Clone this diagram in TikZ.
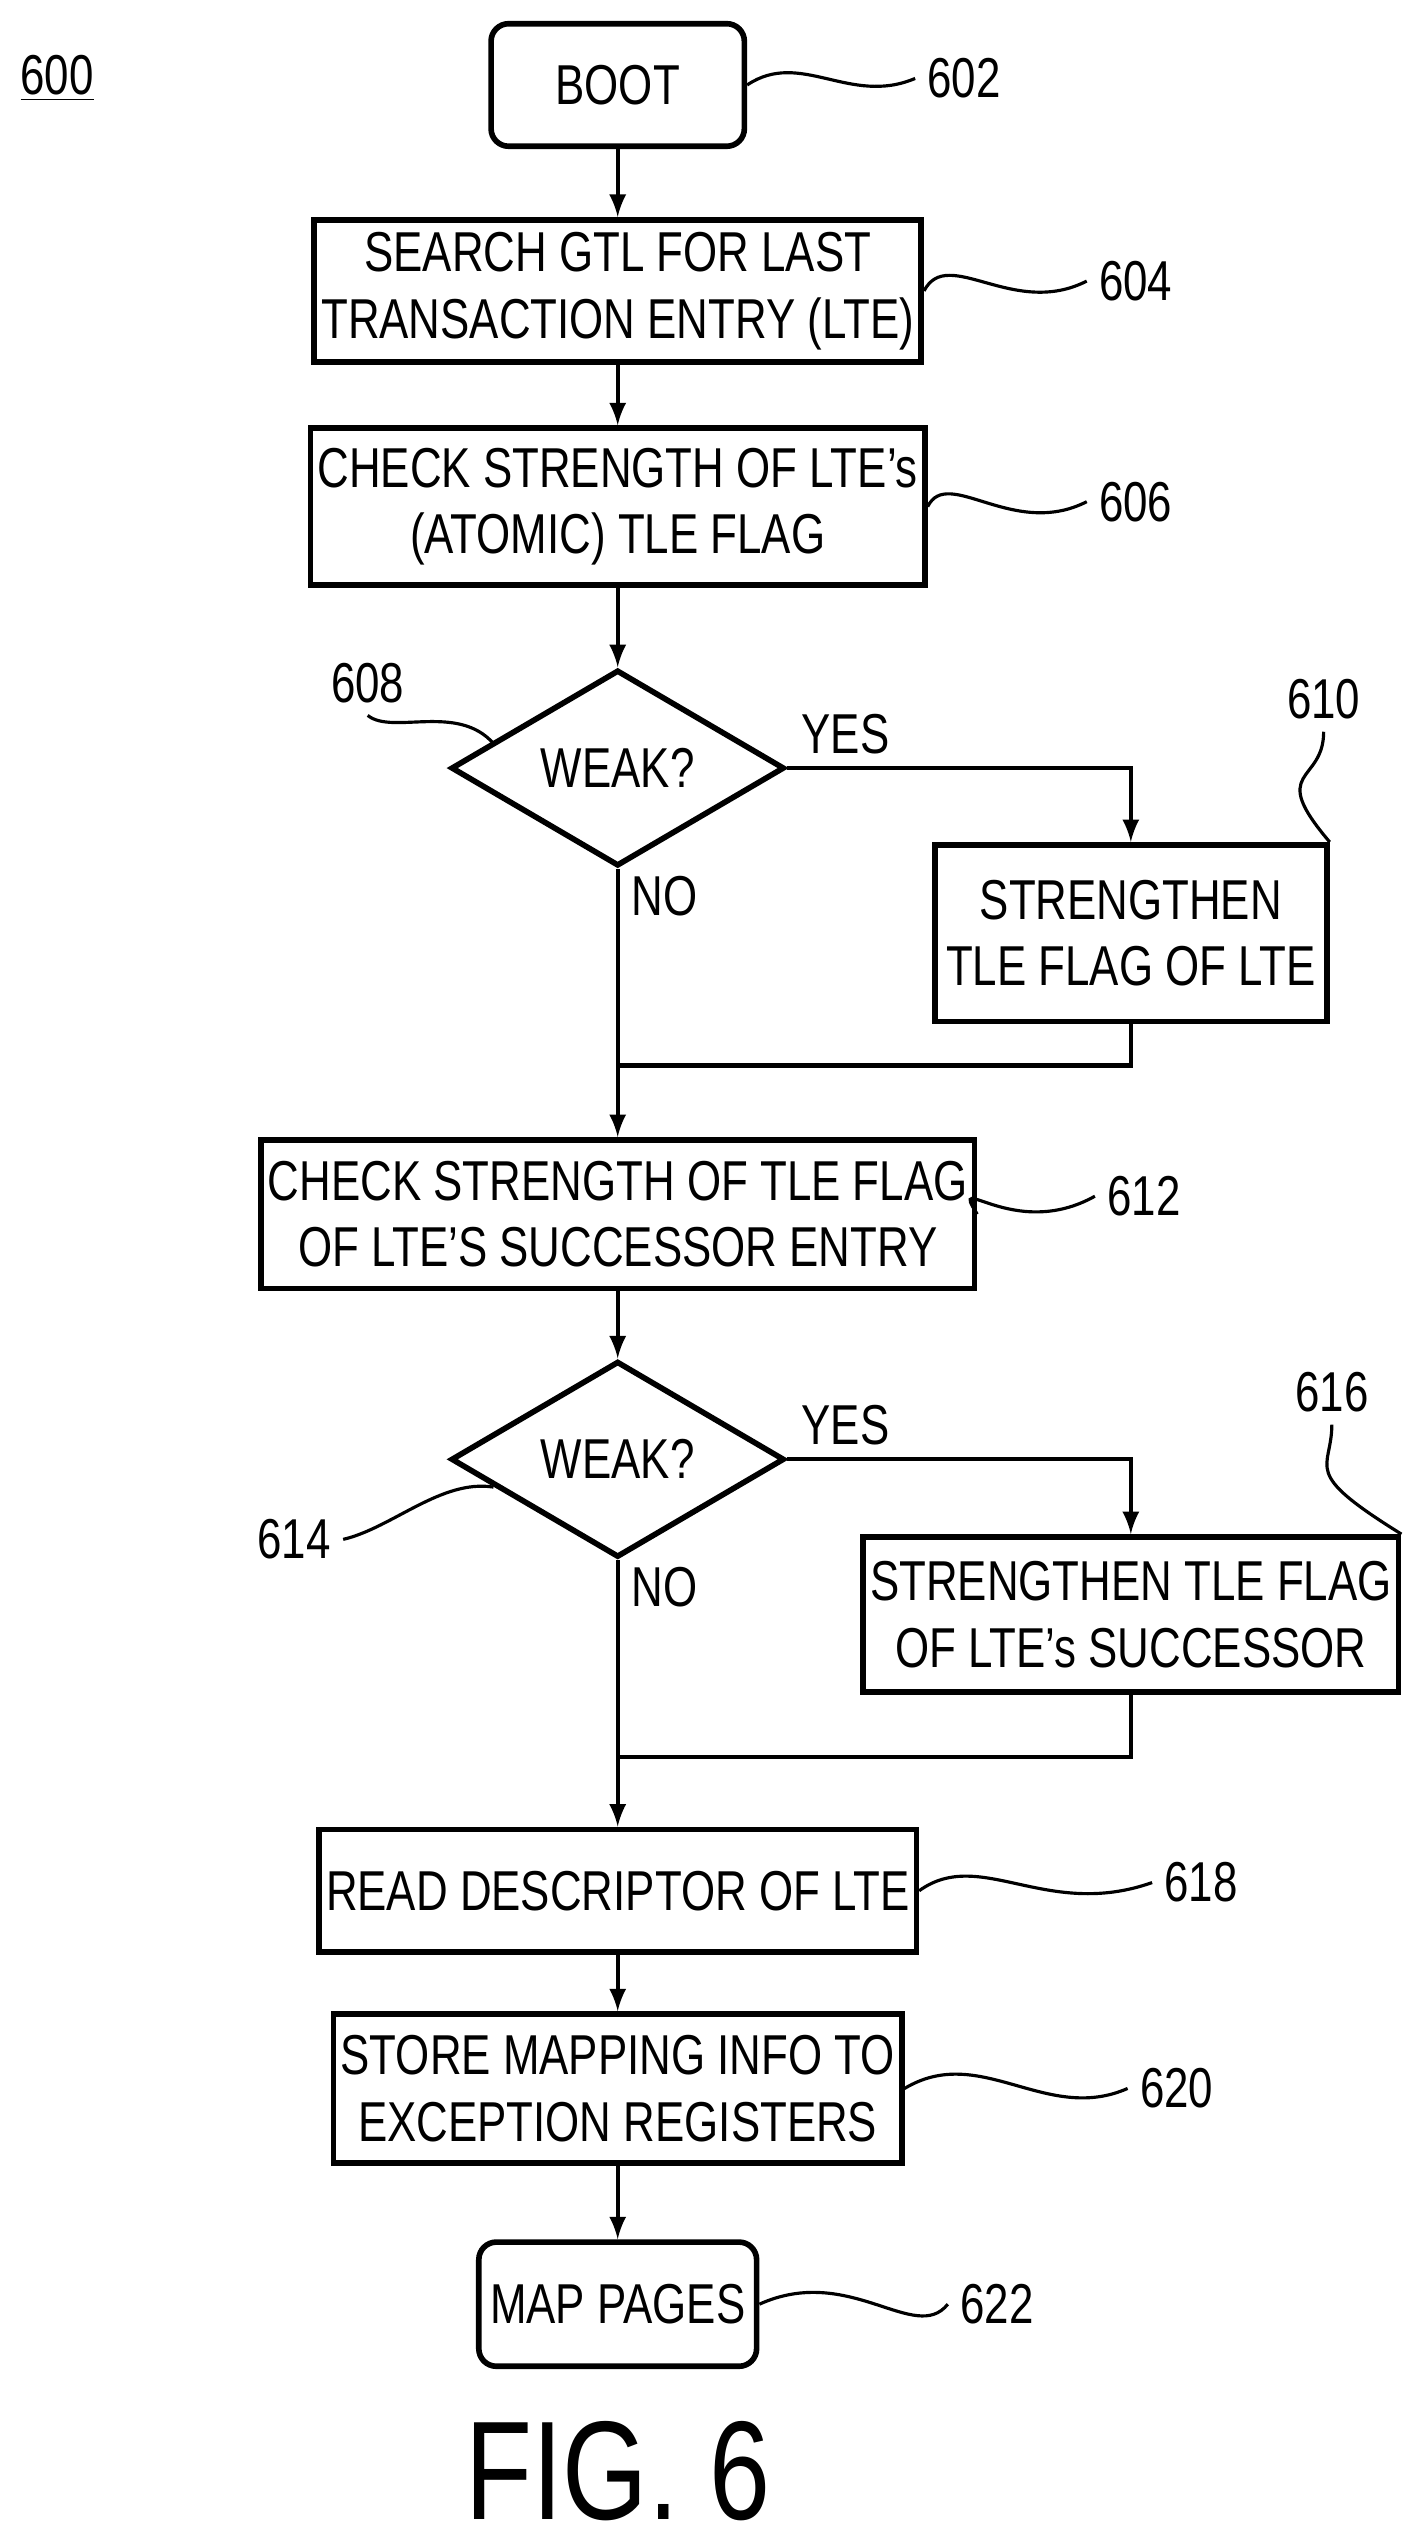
\documentclass[tikz,border=0pt]{standalone}
\usepackage{fontspec}
\setmainfont{Liberation Sans}[FakeStretch=0.78]
\usetikzlibrary{shapes.geometric,decorations.pathmorphing}
\begin{document}
\begin{tikzpicture}[x=0.01634cm, y=-0.01634cm,
  box/.style={draw, line width=1.6pt, minimum width=320*0.01634cm, align=center, font=\fontsize{16}{19}\selectfont, inner sep=2pt},
  term/.style={box, rounded corners=5pt},
  dec/.style={draw, diamond, aspect=1.7, line width=1.6pt, minimum width=204*0.01634cm, minimum height=120*0.01634cm, inner sep=0pt, font=\fontsize{16}{19}\selectfont},
  lbl/.style={font=\fontsize{16}{19}\selectfont},
  flow/.style={line width=1.2pt, -latex},
  line/.style={line width=1.2pt},
  lead/.style={line width=0.9pt, decorate, decoration={snake, amplitude=2.5pt, segment length=22pt}}]
\useasboundingbox (0,0) rectangle (863,1558);

% Number of the figure
\node[lbl] (fignum) at (35,48) {\underline{600}};

% Steps
\node[term, minimum width=155*0.01634cm, minimum height=75*0.01634cm] (boot) at (378,52) {BOOT};
\node[box, minimum height=87*0.01634cm] (search) at (378,178) {SEARCH GTL FOR LAST\\TRANSACTION ENTRY (LTE)};
\node[box, minimum height=96*0.01634cm] (check) at (378,310) {CHECK STRENGTH OF LTE's\\(ATOMIC) TLE FLAG};
\node[dec] (weakA) at (378,470) {WEAK?};
\node[box, minimum width=240*0.01634cm, minimum height=108*0.01634cm] (strA) at (692,571) {STRENGTHEN\\TLE FLAG OF LTE};
\node[box, minimum height=91*0.01634cm] (checkB) at (378,743) {CHECK STRENGTH OF TLE FLAG\\OF LTE'S SUCCESSOR ENTRY};
\node[dec] (weakB) at (378,893) {WEAK?};
\node[box, minimum width=319*0.01634cm, minimum height=95*0.01634cm] (strB) at (692,988) {STRENGTHEN TLE FLAG\\OF LTE's SUCCESSOR};
\node[box, minimum height=75*0.01634cm] (read) at (378,1157) {READ DESCRIPTOR OF LTE};
\node[box, minimum height=91*0.01634cm] (store) at (378,1278) {STORE MAPPING INFO TO\\EXCEPTION REGISTERS};
\node[term, minimum width=170*0.01634cm, minimum height=76*0.01634cm] (map) at (378,1410) {MAP PAGES};
\node[font=\fontsize{40}{44}\selectfont] (fig) at (378,1512) {FIG. 6};

% Reference numbers
\node[lbl] (n602) at (590,48) {602};
\node[lbl] (n604) at (695,172) {604};
\node[lbl] (n606) at (695,307) {606};
\node[lbl] (n608) at (225,418) {608};
\node[lbl] (n610) at (810,428) {610};
\node[lbl] (n612) at (700,732) {612};
\node[lbl] (n614) at (180,942) {614};
\node[lbl] (n616) at (815,852) {616};
\node[lbl] (n618) at (735,1152) {618};
\node[lbl] (n620) at (720,1278) {620};
\node[lbl] (n622) at (610,1410) {622};

% Leaders
\draw[line width=0.9pt] (boot.east) .. controls (490,30) and (520,65) .. (n602.west);
\draw[line width=0.9pt] (search.east) .. controls (580,150) and (620,195) .. (n604.west);
\draw[line width=0.9pt] (check.east) .. controls (580,285) and (620,330) .. (n606.west);
\draw[line width=0.9pt] (n608.south) .. controls (240,450) and (280,430) .. (302,455);
\draw[line width=0.9pt] (n610.south) .. controls (810,480) and (775,470) .. (strA.north east);
\draw[line width=0.9pt] (checkB.east) .. controls (580,715) and (620,760) .. (n612.west);
\draw[line width=0.9pt] (n614.east) .. controls (240,935) and (270,905) .. (302,910);
\draw[line width=0.9pt] (n616.south) .. controls (815,900) and (795,900) .. (strB.north east);
\draw[line width=0.9pt] (read.east) .. controls (600,1130) and (640,1175) .. (n618.west);
\draw[line width=0.9pt] (store.east) .. controls (600,1250) and (640,1300) .. (n620.west);
\draw[line width=0.9pt] (map.east) .. controls (520,1385) and (560,1435) .. (n622.west);

% Connectors
\draw[flow] (boot) -- (search);
\draw[flow] (search) -- (check);
\draw[flow] (check) -- (weakA);
\draw[flow] (weakA.east) -- node[lbl, above, pos=0.17] {YES} (strA.north |- weakA.east) -- (strA.north);
\draw[flow] (weakA.south) -- node[lbl, right, pos=0.1] {NO} (checkB.north);
\draw[line] (strA.south) -- (strA.south |- 0,652) -- (378,652);
\draw[flow] (checkB) -- (weakB);
\draw[flow] (weakB.east) -- node[lbl, above, pos=0.17] {YES} (strB.north |- weakB.east) -- (strB.north);
\draw[flow] (weakB.south) -- node[lbl, right, pos=0.1] {NO} (read.north);
\draw[line] (strB.south) -- (strB.south |- 0,1075) -- (378,1075);
\draw[flow] (read) -- (store);
\draw[flow] (store) -- (map);
\end{tikzpicture}
\end{document}
